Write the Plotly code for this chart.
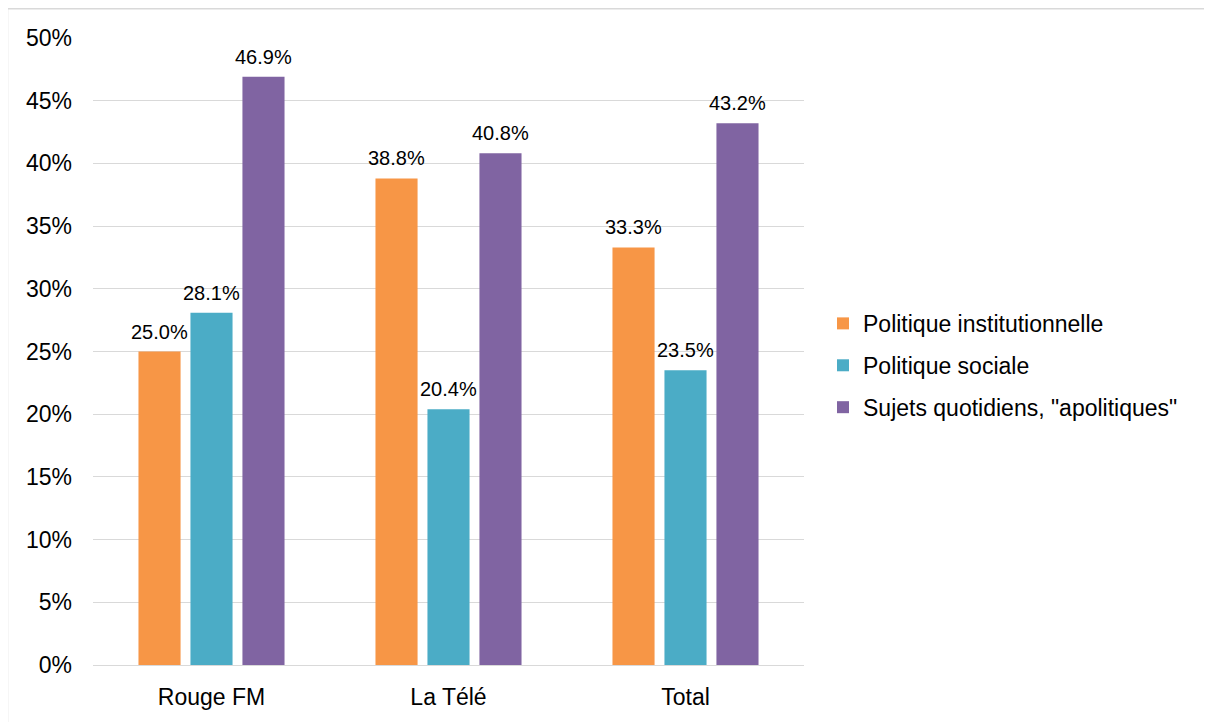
import plotly.graph_objects as go

categories = ["Rouge FM", "La Télé", "Total"]
series_names = ["Politique institutionnelle", "Politique sociale", "Sujets quotidiens, \"apolitiques\""]
inst = [0.250, 0.388, 0.333]
sociale = [0.281, 0.204, 0.235]
apolit = [0.469, 0.408, 0.432]
colors = ["#F79646", "#4BACC6", "#8064A2"]
tick_vals = [0, 0.05, 0.10, 0.15, 0.20, 0.25, 0.30, 0.35, 0.40, 0.45, 0.50]
tick_text = ["0%", "5%", "10%", "15%", "20%", "25%", "30%", "35%", "40%", "45%", "50%"]

# page body adds an 8px offset; figure laid out in its own pixel coords
W, H = 1204, 714
ml, mt = 85, 30
plot_right, plot_bottom = 796, 660
mr, mb = W - plot_right, H - plot_bottom
pw, ph = plot_right - ml, plot_bottom - mt

big = dict(family="Liberation Sans, Arial, sans-serif", size=23, color="#000000")
lab = dict(family="Liberation Sans, Arial, sans-serif", size=20, color="#000000")

fig = go.Figure()
all_series = [inst, sociale, apolit]
for name, vals, col in zip(series_names, all_series, colors):
    fig.add_trace(go.Bar(
        x=categories, y=vals, name=name,
        marker=dict(color=col, line=dict(width=0)),
        legendgroup=name, hoverinfo="x+y+name",
    ))

# data labels above each bar (grouped offset of one bar slot per series)
slot_px = pw / len(categories) * (1 - 0.342) / 3
annotations = []
for i, vals in enumerate(all_series):
    for c, v in zip(categories, vals):
        annotations.append(dict(
            x=c, y=v, xref="x", yref="y", text=f"{v*100:.1f}%",
            showarrow=False, xanchor="center", yanchor="bottom",
            xshift=(i - 1) * slot_px, yshift=7, font=lab,
        ))

def px_x(p):
    return (p - ml) / pw

def px_y(p):
    return (plot_bottom - p) / ph

fig.update_layout(
    width=W, height=H,
    margin=dict(l=ml, r=mr, t=mt, b=mb, pad=0),
    paper_bgcolor="white", plot_bgcolor="white",
    font=big,
    barmode="group", bargap=0.342, bargroupgap=0.19,
    showlegend=True,
    legend=dict(x=px_x(815), y=px_y(359), xanchor="left", yanchor="middle",
                font=big, tracegroupgap=9, bgcolor="rgba(0,0,0,0)"),
    xaxis=dict(showgrid=False, showline=True, linecolor="#D9D9D9", linewidth=1,
               ticks="", tickfont=big, ticklabelstandoff=11),
    yaxis=dict(range=[0, 0.5], tickvals=tick_vals, ticktext=tick_text,
               showgrid=True, gridcolor="#D9D9D9", gridwidth=1,
               zeroline=False, showline=False, ticks="", tickfont=big,
               ticklabelstandoff=20),
    annotations=annotations,
    shapes=[dict(type="rect", xref="paper", yref="paper",
                 x0=px_x(-0.5), x1=px_x(1300), y0=px_y(0.5), y1=px_y(800),
                 line=dict(color="#D9D9D9", width=1.5), layer="below")],
)

fig.write_html("out.html")
